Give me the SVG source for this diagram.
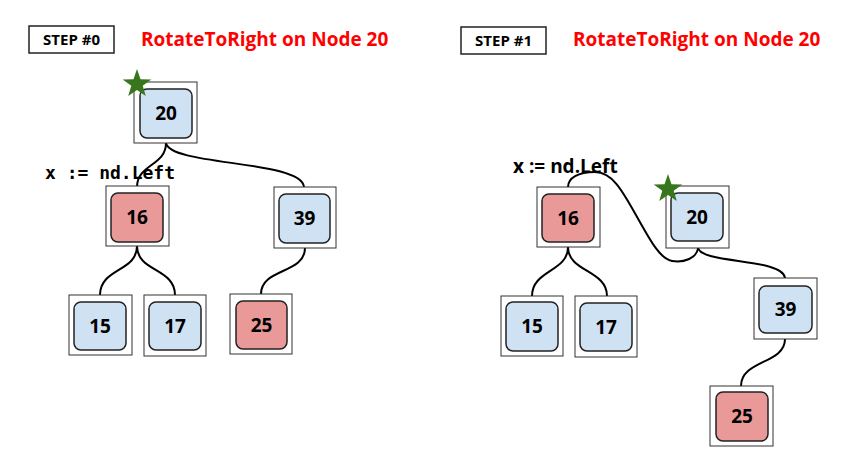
<svg xmlns="http://www.w3.org/2000/svg" width="864" height="470" viewBox="0 0 864 470">
<defs>
<style>
.outer{fill:#fff;stroke:#333;stroke-width:1}
.inner{stroke:#222;stroke-width:1.5}
.blue{fill:#cfe2f3}
.pink{fill:#ea9999}
.num{font-family:"Open Sans","Liberation Sans",sans-serif;font-weight:bold;font-size:19px;fill:#000;text-anchor:middle}
.step{fill:#fff;stroke:#222;stroke-width:1.5}
.steptxt{font-family:"Open Sans","Liberation Sans",sans-serif;font-weight:bold;font-size:15px;fill:#000;text-anchor:middle}
.title{font-family:"Open Sans","Liberation Sans",sans-serif;font-weight:bold;font-size:19px;fill:#ff0000}
.edge{fill:none;stroke:#000;stroke-width:2}
.star{fill:#38761d}
</style>
<polygon id="starShape" points="0,-15 3.5,-4.8 14.3,-4.6 5.7,1.8 8.8,12.1 0,6 -8.8,12.1 -5.7,1.8 -14.3,-4.6 -3.5,-4.8"/>
</defs>
<rect width="864" height="470" fill="#fff"/>

<g id="connectors">
<path class="edge" d="M166,143 C166,166 137,164 137,187"/>
<path class="edge" d="M166,143 C170,166 302,160 304,187"/>
<path class="edge" d="M137,246 C137,272 100,268 100,295"/>
<path class="edge" d="M137,246 C137,272 175,268 175,295"/>
<path class="edge" d="M305,248 C305,274 261,268 261,294"/>
<path class="edge" d="M698,248 C697,258 684,263 672,261 S650,240 636,215 S612,172 595,172 S568,178 568,187"/>
<path class="edge" d="M698,248 C702,264 783,258 785,278"/>
<path class="edge" d="M568,247 C568,272 532,270 532,296"/>
<path class="edge" d="M568,247 C568,272 607,270 607,296"/>
<path class="edge" d="M785,339 C785,364 741,360 741,386"/>
</g>

<g id="header0">
<rect class="step" x="29" y="26" width="85" height="27"/>
<text class="steptxt" x="71.5" y="45">STEP #0</text>
<text class="title" x="141" y="46">RotateToRight on Node 20</text>
</g>
<g id="header1">
<rect class="step" x="461" y="27" width="85" height="27"/>
<text class="steptxt" x="503.5" y="46">STEP #1</text>
<text class="title" x="573" y="46">RotateToRight on Node 20</text>
</g>

<g id="s0-n20">
<rect class="outer" x="134" y="82" width="63" height="61"/>
<rect class="inner blue" x="140" y="89" width="52" height="49" rx="7"/>
<text class="num" x="166" y="120">20</text>
<use href="#starShape" class="star" x="137" y="84"/>
</g>
<g id="s0-n16">
<rect class="outer" x="106" y="186" width="63" height="60"/>
<rect class="inner pink" x="111" y="193" width="52" height="49" rx="7"/>
<text class="num" x="137" y="224">16</text>
</g>
<g id="s0-n39">
<rect class="outer" x="274" y="187" width="62" height="61"/>
<rect class="inner blue" x="279" y="194" width="51" height="49" rx="7"/>
<text class="num" x="304.5" y="225">39</text>
</g>
<g id="s0-n15">
<rect class="outer" x="69" y="295" width="63" height="60"/>
<rect class="inner blue" x="74" y="302" width="52" height="48" rx="7"/>
<text class="num" x="100" y="333">15</text>
</g>
<g id="s0-n17">
<rect class="outer" x="144" y="295" width="62" height="61"/>
<rect class="inner blue" x="149" y="302" width="52" height="48" rx="7"/>
<text class="num" x="175" y="333">17</text>
</g>
<g id="s0-n25">
<rect class="outer" x="230" y="294" width="62" height="60"/>
<rect class="inner pink" x="236" y="301" width="51" height="48" rx="7"/>
<text class="num" x="261.5" y="332">25</text>
</g>
<text id="s0-label" x="45" y="179" font-family="'DejaVu Sans Mono','Liberation Mono',monospace" font-weight="bold" font-size="18" fill="#000">x := nd.Left</text>

<g id="s1-n16">
<rect class="outer" x="537" y="187" width="63" height="60"/>
<rect class="inner pink" x="542" y="194" width="52" height="48" rx="7"/>
<text class="num" x="568" y="225">16</text>
</g>
<g id="s1-n20">
<rect class="outer" x="666" y="186" width="63" height="62"/>
<rect class="inner blue" x="671" y="193" width="52" height="48" rx="7"/>
<text class="num" x="697" y="224">20</text>
<use href="#starShape" class="star" x="668" y="189"/>
</g>
<g id="s1-n39">
<rect class="outer" x="754" y="278" width="63" height="61"/>
<rect class="inner blue" x="759" y="286" width="53" height="47" rx="7"/>
<text class="num" x="785.5" y="316">39</text>
</g>
<g id="s1-n15">
<rect class="outer" x="501" y="296" width="62" height="60"/>
<rect class="inner blue" x="506" y="302" width="52" height="49" rx="7"/>
<text class="num" x="532" y="333">15</text>
</g>
<g id="s1-n17">
<rect class="outer" x="575" y="296" width="62" height="61"/>
<rect class="inner blue" x="580" y="303" width="52" height="48" rx="7"/>
<text class="num" x="606" y="334">17</text>
</g>
<g id="s1-n25">
<rect class="outer" x="710" y="386" width="63" height="60"/>
<rect class="inner pink" x="716" y="392" width="52" height="49" rx="7"/>
<text class="num" x="742" y="423">25</text>
</g>
<text id="s1-label" x="513" y="173" font-family="'Open Sans','Liberation Sans',sans-serif" font-weight="bold" font-size="19" fill="#000">x := nd.Left</text>
</svg>
